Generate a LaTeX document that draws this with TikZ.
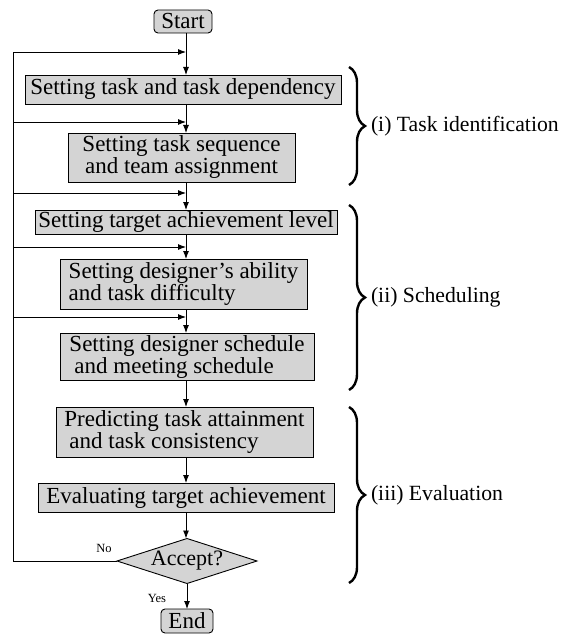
\documentclass[tikz,border=0pt]{standalone}
\usepackage{fontspec}
\setmainfont{Liberation Serif}
\usetikzlibrary{arrows.meta,shapes.geometric,decorations.pathreplacing}
\definecolor{boxfill}{RGB}{212,212,212}
\begin{document}
\begin{tikzpicture}[x=1pt,y=-1pt,
  every node/.style={inner sep=0pt, outer sep=0pt},
  proc/.style={draw=black, line width=0.9pt, fill=boxfill, font=\fontsize{23}{22}\selectfont},
  term/.style={proc, rounded corners=4pt},
  flow/.style={line width=0.9pt, -{Latex[length=8pt,width=6pt]}},
  plain/.style={line width=0.9pt},
  brc/.style={decorate, decoration={brace, amplitude=16pt}, line width=2.4pt},
  grp/.style={anchor=west, font=\fontsize{21.7}{24}\selectfont},
  yn/.style={font=\fontsize{12.5}{14}\selectfont}
]
\useasboundingbox (0,0) rectangle (573,639);
\coordinate (ax) at (186,0);
\coordinate (lx) at (13,0);
\coordinate (f1) at (13,52);
\coordinate (f2) at (13,122);
\coordinate (f3) at (13,193);
\coordinate (f4) at (13,247);
\coordinate (f5) at (13,317);

\node[term, minimum width=58pt, minimum height=23pt] (st) at (183,21.5) {Start};
\node[proc, minimum width=316pt, minimum height=29pt] (b1) at (183,89.5) {Setting task and task dependency};
\node[proc, minimum width=227pt, minimum height=49pt, align=center] (b2) at (181.5,157.5) {Setting task sequence\\and team assignment};
\node[proc, minimum width=302pt, minimum height=24pt] (b3) at (186,222) {Setting target achievement level};
\node[proc, minimum width=247pt, minimum height=50pt, align=left] (b4) at (183.5,284) {Setting designer's ability\\and task difficulty};
\node[proc, minimum width=254pt, minimum height=47pt, align=left] (b5) at (187,356.5) {Setting designer schedule\\\hspace*{5pt}and meeting schedule};
\node[proc, minimum width=257pt, minimum height=50pt, align=left] (b6) at (184.5,432) {Predicting task attainment\\\hspace*{5pt}and task consistency};
\node[proc, minimum width=296pt, minimum height=29pt] (b7) at (186,497.5) {Evaluating target achievement};
\node[proc, diamond, aspect=3, minimum width=140pt, minimum height=45pt, font=\fontsize{22}{22}\selectfont] (dia) at (187,561) {Accept?};
\node[term, minimum width=52pt, minimum height=24pt] (en) at (187,621) {End};

\node[yn] (no) at (104,548) {No};
\node[yn] (yes) at (157,598) {Yes};

\draw[flow] (st.south -| ax) -- (b1.north -| ax);
\draw[flow] (b1.south -| ax) -- (b2.north -| ax);
\draw[flow] (b2.south -| ax) -- (b3.north -| ax);
\draw[flow] (b3.south -| ax) -- (b4.north -| ax);
\draw[flow] (b4.south -| ax) -- (b5.north -| ax);
\draw[flow] (b5.south -| ax) -- (b6.north -| ax);
\draw[flow] (b6.south -| ax) -- (b7.north -| ax);
\draw[flow] (b7.south -| ax) -- (dia.north -| ax);
\draw[flow] (dia.south) -- (dia.south |- en.north);

\draw[plain] (dia.west) -- (dia.west -| lx) -- (f1);
\draw[flow] (f1) -- (f1 -| ax);
\draw[flow] (f2) -- (f2 -| ax);
\draw[flow] (f3) -- (f3 -| ax);
\draw[flow] (f4) -- (f4 -| ax);
\draw[flow] (f5) -- (f5 -| ax);

\coordinate (br1a) at (349,67);
\coordinate (br1b) at (349,185);
\coordinate (br2a) at (349,205);
\coordinate (br2b) at (349,390);
\coordinate (br3a) at (349,407);
\coordinate (br3b) at (349,583);
\draw[brc] (br1a) -- (br1b);
\draw[brc] (br2a) -- (br2b);
\draw[brc] (br3a) -- (br3b);
\node[grp] (g1) at (371,126) {(i) Task identification};
\node[grp] (g2) at (371,297) {(ii) Scheduling};
\node[grp] (g3) at (371,495) {(iii) Evaluation};
\end{tikzpicture}
\end{document}
